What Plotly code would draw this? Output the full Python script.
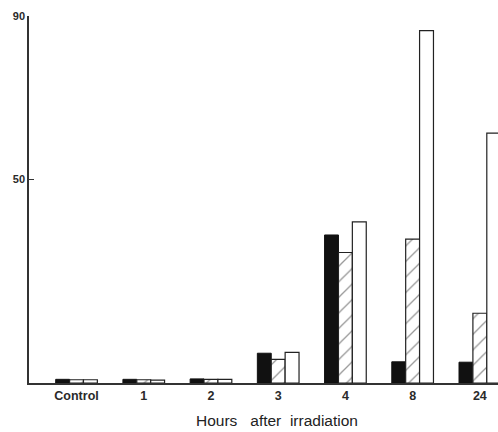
import plotly.graph_objects as go

categories = ["Control", "1", "2", "3", "4", "8", "24"]
black_vals = [0.9, 0.9, 1.0, 7.3, 36.3, 5.2, 5.1]
hatched_vals = [0.8, 0.8, 0.9, 5.8, 32.0, 35.3, 17.1]
white_vals = [0.8, 0.7, 0.9, 7.5, 39.5, 86.4, 61.3]
ytick_vals = [50, 90]
ytick_text = ["50", "90"]
xtitle = "Hours&#160;&#160; after&#160; irradiation"

fig = go.Figure()
fig.add_trace(go.Bar(x=categories, y=black_vals, marker=dict(color="#111111", line=dict(color="#111111", width=1))))
fig.add_trace(go.Bar(x=categories, y=hatched_vals,
                     marker=dict(color="white", line=dict(color="#222222", width=1.2),
                                 pattern=dict(shape="/", fgcolor="#333333", bgcolor="white", size=11, solidity=0.12))))
fig.add_trace(go.Bar(x=categories, y=white_vals, marker=dict(color="white", line=dict(color="#222222", width=1.2))))

fig.update_layout(
    width=498, height=432,
    margin=dict(l=29, r=0, t=16, b=49, autoexpand=False),
    barmode="group", bargap=0.38, bargroupgap=0,
    showlegend=False,
    plot_bgcolor="white", paper_bgcolor="white",
    font=dict(family="Liberation Sans, Arial, sans-serif", color="#222222"),
)
fig.update_xaxes(type="category", range=[-0.707, 6.27], showline=True, linecolor="#333333", linewidth=1.5,
                 ticks="", showgrid=False, zeroline=False, automargin=False,
                 tickfont=dict(size=12.5, family="Liberation Sans, Arial, sans-serif", weight="bold", color="#2a2a2a"))
fig.update_yaxes(range=[0, 90], showline=True, linecolor="#333333", linewidth=1.5,
                 ticks="inside", ticklen=5, tickcolor="#333333", tickwidth=1.2,
                 tickvals=ytick_vals, ticktext=ytick_text, showgrid=False, zeroline=False, automargin=False,
                 tickfont=dict(size=11, family="Liberation Sans, Arial, sans-serif", weight="bold", color="#2a2a2a"))
fig.add_annotation(text=xtitle, xref="paper", yref="paper", x=0.529, y=0, yshift=-37,
                   showarrow=False, yanchor="middle",
                   font=dict(size=15.5, family="Liberation Sans, Arial, sans-serif", color="#222222"))
fig.write_html("out.html", config={"displayModeBar": False},
               post_script="document.body.style.margin='0';document.body.style.overflow='hidden';")
